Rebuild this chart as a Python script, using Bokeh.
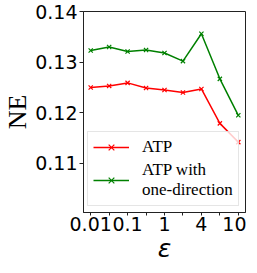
from bokeh.plotting import figure
from bokeh.models import FixedTicker, Range1d, Legend, LegendItem, PrintfTickFormatter
from bokeh.embed import file_html
from bokeh.resources import INLINE

x_labels = ["0.01", "", "0.1", "", "1", "", "4", "", "10"]
atp = [0.1250, 0.1253, 0.1259, 0.1249, 0.1245, 0.1240, 0.1247, 0.1179, 0.1142]
atp_one_dir = [0.1323, 0.1330, 0.1321, 0.1324, 0.1318, 0.1302, 0.1356, 0.1267, 0.1195]
y_ticks = [0.11, 0.12, 0.13, 0.14]

xs = list(range(len(x_labels)))

p = figure(width=246, height=265, output_backend="svg", toolbar_location=None,
           x_range=Range1d(-0.39, len(x_labels) - 1 + 0.39),
           y_range=Range1d(0.1003, 0.1400),
           min_border_left=0, min_border_right=1, min_border_top=11, min_border_bottom=0)

p.xgrid.visible = False
p.ygrid.visible = False
p.outline_line_color = "#222222"
p.outline_line_width = 1

for ax in (p.xaxis[0], p.yaxis[0]):
    ax.axis_line_color = "#222222"
    ax.major_tick_line_color = "#222222"
    ax.major_tick_in = 0
    ax.minor_tick_out = 0
    ax.minor_tick_in = 0
    ax.major_label_text_font = "DejaVu Sans"
    ax.major_label_text_font_size = "19px"
    ax.major_label_text_color = "black"

p.xaxis.ticker = FixedTicker(ticks=xs)
p.xaxis.major_label_overrides = {i: lab for i, lab in enumerate(x_labels)}
p.xaxis.major_tick_out = 3
p.xaxis.major_label_standoff = 1
p.xaxis.axis_label = "ε"
p.xaxis.axis_label_text_font = "DejaVu Sans"
p.xaxis.axis_label_text_font_style = "italic"
p.xaxis.axis_label_text_font_size = "25px"
p.xaxis.axis_label_text_color = "black"
p.xaxis.axis_label_standoff = 0

p.yaxis.ticker = FixedTicker(ticks=y_ticks)
p.yaxis.formatter = PrintfTickFormatter(format="%.2f")
p.yaxis.major_tick_out = 4
p.yaxis.major_label_standoff = 2
p.yaxis.axis_label = "NE"
p.yaxis.axis_label_text_font = "Liberation Serif"
p.yaxis.axis_label_text_font_style = "normal"
p.yaxis.axis_label_text_font_size = "26px"
p.yaxis.axis_label_text_color = "black"
p.yaxis.axis_label_standoff = 0

l1 = p.line(xs, atp, line_color="red", line_width=1.5)
m1 = p.scatter(xs, atp, marker="x", size=6, line_color="red", line_width=1.2)
l2 = p.line(xs, atp_one_dir, line_color="green", line_width=1.5)
m2 = p.scatter(xs, atp_one_dir, marker="x", size=6, line_color="green", line_width=1.2)

legend = Legend(items=[
    LegendItem(label="ATP", renderers=[l1, m1]),
    LegendItem(label="ATP with\none-direction", renderers=[l2, m2]),
], location=(4, 6))
legend.margin = 0
legend.label_text_font = "Liberation Serif"
legend.label_text_font_size = "17px"
legend.label_text_line_height = 0.92
legend.label_text_color = "black"
legend.glyph_width = 36
legend.label_standoff = 13
legend.padding = 5
legend.spacing = 3
legend.border_line_color = "#cccccc"
legend.background_fill_alpha = 0.8
p.add_layout(legend, "center")

open("out.html", "w").write(file_html(p, INLINE))
